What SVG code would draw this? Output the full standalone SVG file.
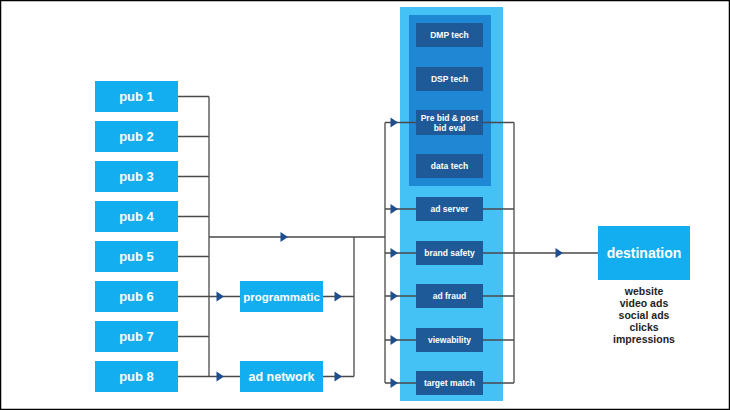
<svg xmlns="http://www.w3.org/2000/svg" width="730" height="410" viewBox="0 0 730 410">
<defs>
<style>
.pub{fill:#12AEEF}
.t{font-family:"Liberation Sans",Arial,sans-serif;font-weight:bold;fill:#fff;text-anchor:middle}
.tp{font-size:13px}
.td{font-size:8.5px}
.dk{fill:#1E5A98}
.ln{stroke:#4a4a4a;stroke-width:1.3;fill:none}
.lbl{font-family:"Liberation Sans",Arial,sans-serif;font-weight:bold;fill:#222;font-size:10.5px;text-anchor:middle}
</style>
<path id="ar" d="M-7.5,-5 L0,0 L-7.5,5 Z" fill="#1F4E8C"/>
</defs>
<rect x="0" y="0" width="730" height="410" fill="#fff"/>
<rect x="400" y="7" width="103" height="394" fill="#45C2F5"/>
<rect x="409" y="15" width="82" height="171" fill="#1E88D4"/>

<g id="connectors">
<path class="ln" d="M178,96.5H209M178,136.5H209M178,176.5H209M178,216.5H209M178,256.5H209M178,336.5H209M209,96.5V376.5"/>
<path class="ln" d="M209,237H385M178,296.5H240M178,376.5H240M323,296.5H354M323,376.5H354M354,237V376.5"/>
<path class="ln" d="M385,122.5V383M385,122.5H416M385,209H416M385,253H416M385,296H416M385,340H416M385,383H416"/>
<path class="ln" d="M483,122.5H514M483,209H514M483,253H514M483,296H514M483,340H514M483,383H514M514,122.5V383M514,253H598"/>
<use href="#ar" x="288" y="237"/>
<use href="#ar" x="224" y="296.5"/>
<use href="#ar" x="224" y="376.5"/>
<use href="#ar" x="342" y="296.5"/>
<use href="#ar" x="342" y="376.5"/>
<use href="#ar" x="398" y="122.5"/>
<use href="#ar" x="398" y="209"/>
<use href="#ar" x="398" y="253"/>
<use href="#ar" x="398" y="296"/>
<use href="#ar" x="398" y="340"/>
<use href="#ar" x="398" y="383"/>
<use href="#ar" x="563" y="253"/>
</g>

<g id="pub1"><rect class="pub" x="95" y="81" width="83" height="31"/><text class="t tp" x="136.5" y="101">pub 1</text></g>
<g id="pub2"><rect class="pub" x="95" y="121" width="83" height="31"/><text class="t tp" x="136.5" y="141">pub 2</text></g>
<g id="pub3"><rect class="pub" x="95" y="161" width="83" height="31"/><text class="t tp" x="136.5" y="181">pub 3</text></g>
<g id="pub4"><rect class="pub" x="95" y="201" width="83" height="31"/><text class="t tp" x="136.5" y="221">pub 4</text></g>
<g id="pub5"><rect class="pub" x="95" y="241" width="83" height="31"/><text class="t tp" x="136.5" y="261">pub 5</text></g>
<g id="pub6"><rect class="pub" x="95" y="281" width="83" height="31"/><text class="t tp" x="136.5" y="301">pub 6</text></g>
<g id="pub7"><rect class="pub" x="95" y="321" width="83" height="31"/><text class="t tp" x="136.5" y="341">pub 7</text></g>
<g id="pub8"><rect class="pub" x="95" y="361" width="83" height="31"/><text class="t tp" x="136.5" y="381">pub 8</text></g>

<g id="programmatic"><rect class="pub" x="240" y="281" width="83" height="31"/><text class="t" x="281.5" y="300.5" font-size="11.5">programmatic</text></g>
<g id="adnetwork"><rect class="pub" x="240" y="361" width="83" height="31"/><text class="t" x="281.5" y="381" font-size="12.5">ad network</text></g>

<g id="dmp"><rect class="dk" x="416" y="23" width="67" height="24"/><text class="t td" x="449.5" y="38">DMP tech</text></g>
<g id="dsp"><rect class="dk" x="416" y="67" width="67" height="24"/><text class="t td" x="449.5" y="82">DSP tech</text></g>
<g id="prebid"><rect class="dk" x="416" y="110" width="67" height="25"/><text class="t td" x="449.5" y="120.5">Pre bid &amp; post</text><text class="t td" x="449.5" y="131">bid eval</text></g>
<g id="datatech"><rect class="dk" x="416" y="154" width="67" height="24"/><text class="t td" x="449.5" y="169">data tech</text></g>
<g id="adserver"><rect class="dk" x="416" y="197" width="67" height="24"/><text class="t td" x="449.5" y="212">ad server</text></g>
<g id="brandsafety"><rect class="dk" x="416" y="241" width="67" height="24"/><text class="t td" x="449.5" y="256">brand safety</text></g>
<g id="adfraud"><rect class="dk" x="416" y="284" width="67" height="24"/><text class="t td" x="449.5" y="299">ad fraud</text></g>
<g id="viewability"><rect class="dk" x="416" y="328" width="67" height="24"/><text class="t td" x="449.5" y="343">viewability</text></g>
<g id="targetmatch"><rect class="dk" x="416" y="371" width="67" height="24"/><text class="t td" x="449.5" y="386">target match</text></g>

<g id="destination"><rect class="pub" x="598" y="226" width="92" height="54"/><text class="t" x="644" y="258" font-size="14">destination</text>
<text class="lbl" x="644" y="295">website</text>
<text class="lbl" x="644" y="307">video ads</text>
<text class="lbl" x="644" y="319">social ads</text>
<text class="lbl" x="644" y="331">clicks</text>
<text class="lbl" x="644" y="343">impressions</text>
</g>
<rect x="0.5" y="0.5" width="729" height="409" fill="none" stroke="#000" stroke-width="1.5"/>
</svg>
